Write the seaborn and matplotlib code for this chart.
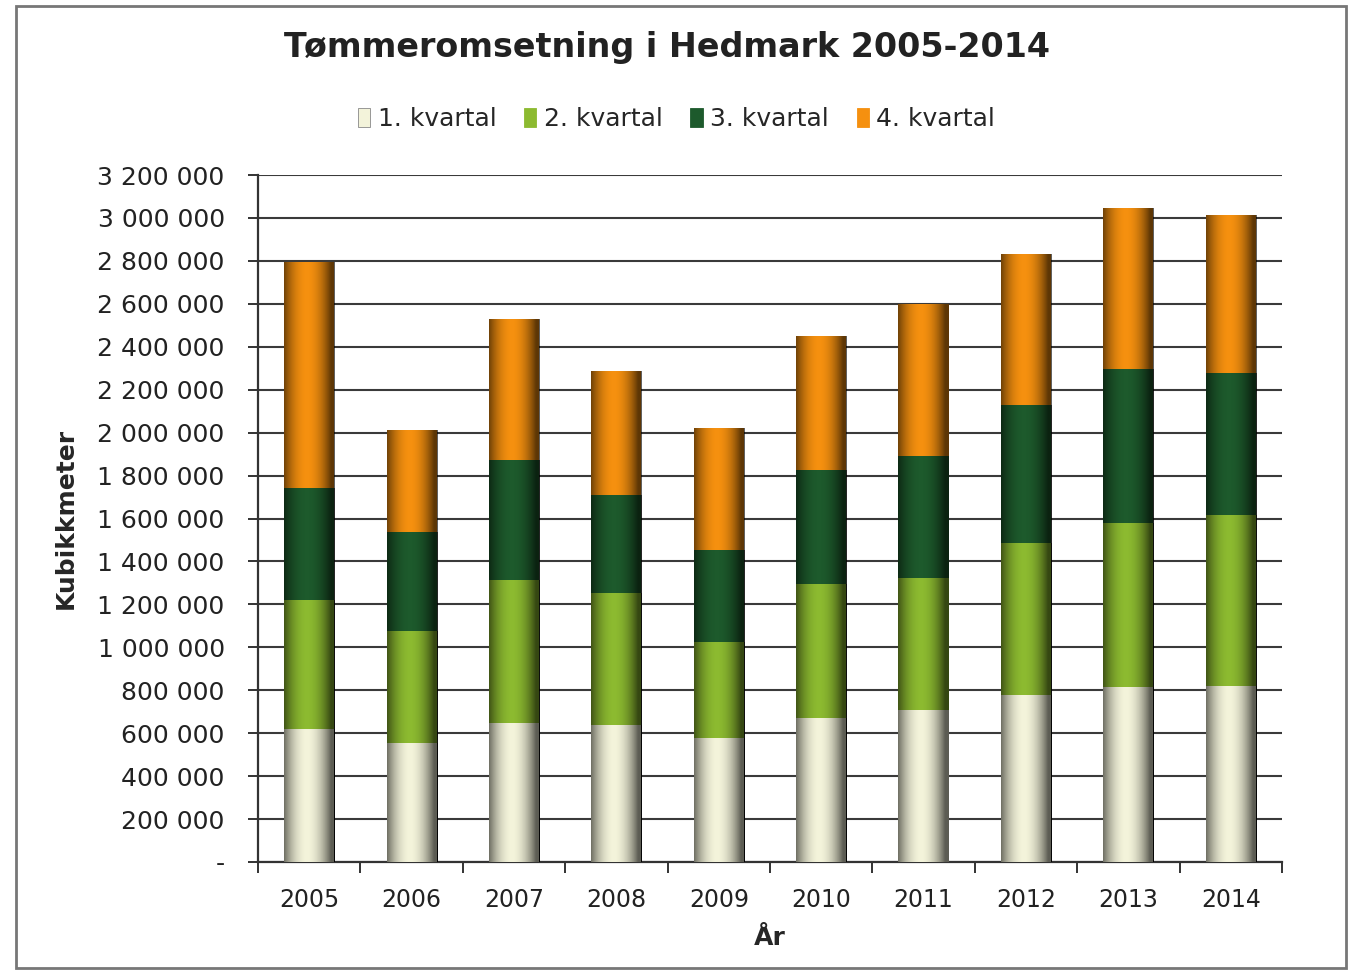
import numpy as np
import pandas as pd
import matplotlib
matplotlib.use("Agg")
import matplotlib.pyplot as plt
from matplotlib.patches import Patch, Rectangle
from matplotlib.ticker import FuncFormatter, FixedLocator
import seaborn as sns

# data (kubikkmeter per kvartal)
years = ["2005", "2006", "2007", "2008", "2009", "2010", "2011", "2012", "2013", "2014"]
q1 = [620000, 555000, 647000, 638000, 578000, 671000, 708000, 778000, 815000, 820000]
q2 = [600000, 521000, 666000, 615000, 447000, 624000, 615000, 708000, 764000, 796000]
q3 = [522000, 461000, 559000, 456000, 428000, 531000, 568000, 643000, 717000, 662000]
q4 = [1053000, 475000, 657000, 578000, 568000, 624000, 708000, 703000, 750000, 735000]

labels = ["1. kvartal", "2. kvartal", "3. kvartal", "4. kvartal"]
colors = ["#f3f3da", "#8cba30", "#1d5a2c", "#f5900f"]

df = pd.DataFrame({"year": years, "q1": q1, "q2": q2, "q3": q3, "q4": q4})
df["c1"] = df["q1"]
df["c2"] = df["c1"] + df["q2"]
df["c3"] = df["c2"] + df["q3"]
df["c4"] = df["c3"] + df["q4"]

sns.set_style("white")
plt.rcParams["font.family"] = ["DejaVu Sans"]

fig = plt.figure(figsize=(13.53, 9.74), dpi=100)
ax = fig.add_axes([0.1907, 0.115, 0.7568, 0.7053])

# stacked bars: cumulative totals drawn from top segment down
cols = ["c4", "c3", "c2", "c1"]
cols_colors = [colors[3], colors[2], colors[1], colors[0]]
for i, (c, col) in enumerate(zip(cols, cols_colors)):
    sns.barplot(data=df, x="year", y=c, order=years, color=col, saturation=1,
                width=0.49, ax=ax, zorder=2 + i, linewidth=0)

# cylinder-like shading on each bar
t = np.linspace(0, 1, 200)
shade = np.clip(np.abs(t - 0.45) * 2.1, 0, 1) ** 2.0 * 0.62
grad = np.zeros((1, len(t), 4))
grad[..., 3] = shade
for p in list(ax.patches):
    x0, y0 = p.get_x(), p.get_y()
    w, h = p.get_width(), p.get_height()
    im = ax.imshow(grad, extent=[x0, x0 + w, y0, y0 + h], aspect="auto",
                   zorder=p.get_zorder() + 0.5, interpolation="bilinear")
    im.set_clip_path(p)

ax.set_xlim(-0.5, 9.5)
ax.set_ylim(0, 3200000)
ax.set_yticks(np.arange(0, 3200001, 200000))


def fmt(v, pos):
    if v == 0:
        return "-"
    return f"{int(v):,}".replace(",", " ")


ax.yaxis.set_major_formatter(FuncFormatter(fmt))
ax.yaxis.grid(True, color="#3a3a3a", linewidth=1.5)
ax.set_axisbelow(True)

for s in ["top", "right"]:
    ax.spines[s].set_visible(False)
for s in ["left", "bottom"]:
    ax.spines[s].set_color("#333333")
    ax.spines[s].set_linewidth(1.6)

ax.tick_params(axis="y", length=7, width=1.4, color="#333333", labelsize=18,
               labelcolor="#222222", pad=17, left=True)
ax.tick_params(axis="x", which="major", length=0, labelsize=17, labelcolor="#222222", pad=19)
ax.xaxis.set_minor_locator(FixedLocator(np.arange(-0.5, 10, 1)))
ax.tick_params(axis="x", which="minor", length=8, width=1.4, color="#333333", bottom=True)

ax.set_xlabel("År", fontsize=18, fontweight="bold", labelpad=10)
ax.set_ylabel("Kubikkmeter", fontsize=18, fontweight="bold", labelpad=14)

fig.text(0.493, 0.951, "Tømmeromsetning i Hedmark 2005-2014", ha="center", va="center",
         fontsize=24, fontweight="bold", color="#222222")

handles = [Patch(facecolor=c, edgecolor="#888888" if i == 0 else c, linewidth=0.6)
           for i, c in enumerate(colors)]
fig.legend(handles, labels, loc="center", bbox_to_anchor=(0.5, 0.878), ncol=4,
           frameon=False, fontsize=18, handlelength=0.5, handleheight=0.8,
           handletextpad=0.3, columnspacing=1.1)

fig.patches.append(Rectangle((0.012, 0.006), 0.983, 0.988, transform=fig.transFigure,
                             fill=False, edgecolor="#777777", linewidth=2))

fig.savefig("out.png", dpi=100)
